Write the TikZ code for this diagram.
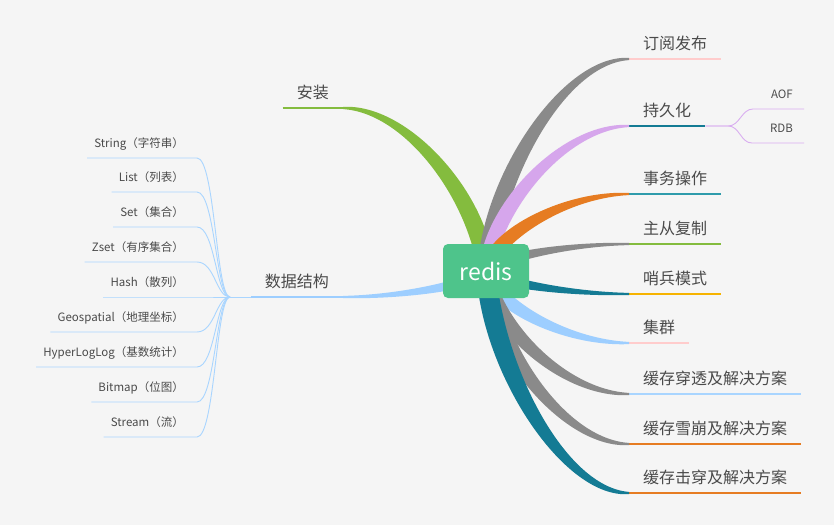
\documentclass[tikz,border=0pt]{standalone}
\usepackage{fontspec}
\setmainfont{Noto Sans CJK SC}
\usepackage{tikz}
\usetikzlibrary{calc, positioning}
\definecolor{bgcol}{HTML}{F5F5F5}
\definecolor{rootgreen}{HTML}{4EC48B}
\definecolor{brgray}{HTML}{8A8A8A}
\definecolor{brviolet}{HTML}{D6A6EC}
\definecolor{brorange}{HTML}{E67C22}
\definecolor{brteal}{HTML}{147B94}
\definecolor{brblue}{HTML}{9DCEFF}
\definecolor{brgreen}{HTML}{84BC3E}
\definecolor{lnpink}{HTML}{FFCCCC}
\definecolor{lnteal}{HTML}{2E9BAB}
\definecolor{lnyellow}{HTML}{F6B300}
\definecolor{twigblue}{HTML}{A9D5FF}
\definecolor{twigviolet}{HTML}{D9AEF0}
\definecolor{txtgray}{HTML}{4A4A4A}
\tikzset{
    rootbox/.style={fill=rootgreen, rounded corners=5pt, minimum width=86pt, minimum height=54pt, text=white, font=\fontsize{23}{27}\selectfont},
    topic/.style={font=\fontsize{16}{19}\selectfont, text=txtgray, inner xsep=14pt, inner ysep=5.5pt, text height=12pt, text depth=3.5pt},
    leaf/.style={font=\fontsize{11.5}{13}\selectfont, text=txtgray, inner xsep=7pt, inner ysep=7.8pt, text height=8.5pt, text depth=3pt, anchor=south east},
    uline/.style={line width=2pt},
    twig/.style={line width=0.9pt},
}
% tapered branch: colour, end point, half width at the root, half width near the end
\newcommand{\branch}[4]{%
    \path let \p1=(root), \p2=(#2) in
        coordinate (k1) at ({\x1+0.05*(\x2-\x1)},{\y1+0.45*(\y2-\y1)})
        coordinate (k2) at ({\x1+0.55*(\x2-\x1)},{\y2});
    \coordinate (ra) at ($(root)!#3!90:(#2)$);
    \coordinate (rb) at ($(root)!#3!-90:(#2)$);
    \coordinate (ma) at ($(#2)!#4!-90:(k2)$);
    \coordinate (mb) at ($(#2)!#4!90:(k2)$);
    \coordinate (ea) at ($(#2)!1.1pt!-90:(k2)$);
    \coordinate (eb) at ($(#2)!1.1pt!90:(k2)$);
    \fill[#1] (ra) .. controls ($(k1)+(ra)-(root)$) and ($(k2)+(ma)-(#2)$) .. (ea)
        -- (eb) .. controls ($(k2)+(mb)-(#2)$) and ($(k1)+(rb)-(root)$) .. (rb) -- cycle;
}
\begin{document}
\begin{tikzpicture}[x=1pt, y=-1pt]
    \fill[bgcol] (0,0) rectangle (834,525);
    \useasboundingbox (0,0) rectangle (834,525);
    \coordinate (root) at (486,271);

    % right side
    \node[topic, anchor=south west] (pubsub) at (629,59) {订阅发布};
    \node[topic, anchor=south west] (persist) at (629,126) {持久化};
    \node[topic, anchor=south west] (trans) at (629,194) {事务操作};
    \node[topic, anchor=south west] (repl) at (629,244) {主从复制};
    \node[topic, anchor=south west] (sentinel) at (629,294) {哨兵模式};
    \node[topic, anchor=south west] (cluster) at (629,343) {集群};
    \node[topic, anchor=south west] (penetr) at (629,394) {缓存穿透及解决方案};
    \node[topic, anchor=south west] (avalanche) at (629,444) {缓存雪崩及解决方案};
    \node[topic, anchor=south west] (breakdown) at (629,493) {缓存击穿及解决方案};

    \draw[uline, lnpink] (pubsub.south west) -- (pubsub.south east);
    \draw[uline, brteal] (persist.south west) -- (persist.south east);
    \draw[uline, lnteal] (trans.south west) -- (trans.south east);
    \draw[uline, brgreen] (repl.south west) -- (repl.south east);
    \draw[uline, lnyellow] (sentinel.south west) -- (sentinel.south east);
    \draw[uline, lnpink] (cluster.south west) -- (cluster.south east);
    \draw[uline, twigblue] (penetr.south west) -- (penetr.south east);
    \draw[uline, brorange] (avalanche.south west) -- (avalanche.south east);
    \draw[uline, brorange] (breakdown.south west) -- (breakdown.south east);

    \node[leaf, inner xsep=11pt, inner ysep=7pt] (aof) at (804,109) {AOF};
    \node[leaf, inner xsep=11pt, inner ysep=7pt] (rdb) at (804,143) {RDB};
    \draw[twig, twigviolet] (persist.south east) -- ++(23,0) .. controls +(11,0) and +(-11,0) .. ($(aof.south west)+(-7,0)$) -- (aof.south east);
    \draw[twig, twigviolet] (persist.south east) -- ++(23,0) .. controls +(11,0) and +(-11,0) .. ($(rdb.south west)+(-7,0)$) -- (rdb.south east);

    % left side
    \node[topic, anchor=south east] (install) at (343,108) {安装};
    \node[topic, anchor=south east] (dstruct) at (343,297) {数据结构};
    \draw[uline, brgreen] (install.south west) -- (install.south east);
    \draw[uline, brblue] (dstruct.south west) -- (dstruct.south east);
    \coordinate (hub) at (230,297);
    \draw[twig, twigblue] (dstruct.south west) -- (hub);

    \node[leaf] (lstring) at (191,158) {String（字符串）};
    \node[leaf] (llist) at (191,192) {List（列表）};
    \node[leaf] (lset) at (191,227) {Set（集合）};
    \node[leaf] (lzset) at (191,262) {Zset（有序集合）};
    \node[leaf] (lhash) at (191,297) {Hash（散列）};
    \node[leaf] (lgeo) at (191,332) {Geospatial（地理坐标）};
    \node[leaf] (lhll) at (191,367) {HyperLogLog（基数统计）};
    \node[leaf] (lbitmap) at (191,402) {Bitmap（位图）};
    \node[leaf] (lstream) at (191,437) {Stream（流）};

    \draw[twig, twigblue] (lstring.south west) -- ($(lstring.south east)+(6,0)$) .. controls +(18,0) and +(-14,0) .. (hub);
    \draw[twig, twigblue] (llist.south west) -- ($(llist.south east)+(6,0)$) .. controls +(18,0) and +(-14,0) .. (hub);
    \draw[twig, twigblue] (lset.south west) -- ($(lset.south east)+(6,0)$) .. controls +(18,0) and +(-14,0) .. (hub);
    \draw[twig, twigblue] (lzset.south west) -- ($(lzset.south east)+(6,0)$) .. controls +(18,0) and +(-14,0) .. (hub);
    \draw[twig, twigblue] (lhash.south west) -- ($(lhash.south east)+(6,0)$) -- (hub);
    \draw[twig, twigblue] (lgeo.south west) -- ($(lgeo.south east)+(6,0)$) .. controls +(18,0) and +(-14,0) .. (hub);
    \draw[twig, twigblue] (lhll.south west) -- ($(lhll.south east)+(6,0)$) .. controls +(18,0) and +(-14,0) .. (hub);
    \draw[twig, twigblue] (lbitmap.south west) -- ($(lbitmap.south east)+(6,0)$) .. controls +(18,0) and +(-14,0) .. (hub);
    \draw[twig, twigblue] (lstream.south west) -- ($(lstream.south east)+(6,0)$) .. controls +(18,0) and +(-14,0) .. (hub);

    % branches from the centre
    \branch{brgreen}{install.south east}{10pt}{5pt}
    \branch{brblue}{dstruct.south east}{6pt}{2.5pt}
    \branch{brgray}{pubsub.south west}{10pt}{5pt}
    \branch{brviolet}{persist.south west}{9pt}{4.5pt}
    \branch{brorange}{trans.south west}{8pt}{4pt}
    \branch{brgray}{repl.south west}{6pt}{2.5pt}
    \branch{brteal}{sentinel.south west}{6pt}{2.5pt}
    \branch{brblue}{cluster.south west}{8pt}{4pt}
    \branch{brgray}{penetr.south west}{9pt}{4.5pt}
    \branch{brgray}{avalanche.south west}{10pt}{5pt}
    \branch{brteal}{breakdown.south west}{11pt}{6pt}

    \node[rootbox] (redis) at (root) {redis};
\end{tikzpicture}
\end{document}
